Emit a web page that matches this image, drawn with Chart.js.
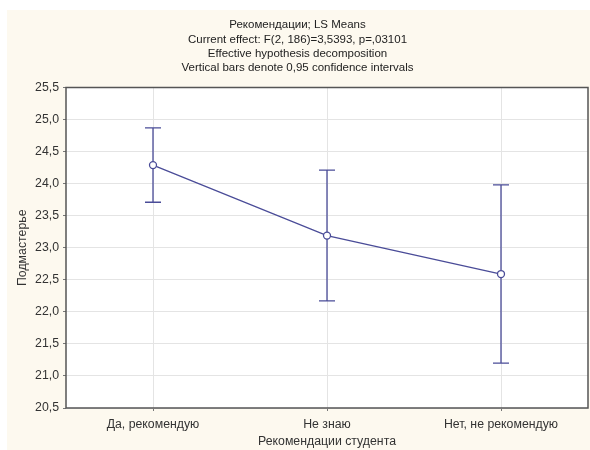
<!DOCTYPE html>
<html>
<head>
<meta charset="utf-8">
<script src="https://cdn.jsdelivr.net/npm/chart.js@4/dist/chart.umd.min.js"></script>
<style>
  html, body { margin: 0; padding: 0; background: #fff; }
  #box { position: absolute; left: 7px; top: 10px; width: 583px; height: 440px; background: #fdf9ef; }
</style>
</head>
<body>
<div id="box"><canvas id="chart" width="583" height="440"></canvas></div>
<script>
var categories = ['Да, рекомендую', 'Не знаю', 'Нет, не рекомендую'];
var means = [24.29, 23.19, 22.59];
var ciLow = [23.71, 22.17, 21.20];
var ciHigh = [24.87, 24.21, 23.98];
var titleLines = [
    'Рекомендации; LS Means',
    'Current effect: F(2, 186)=3,5393, p=,03101',
    'Effective hypothesis decomposition',
    'Vertical bars denote 0,95 confidence intervals'
];

var cor = '#4a4c98';

// white plot area + frame
var quadro = {
    id: 'quadro',
    beforeDraw: function(chart) {
        var a = chart.chartArea, ctx = chart.ctx;
        ctx.save();
        ctx.fillStyle = '#fff';
        ctx.fillRect(a.left, a.top, a.right - a.left, a.bottom - a.top);
        ctx.restore();
    },
    afterDraw: function(chart) {
        var a = chart.chartArea, ctx = chart.ctx;
        ctx.save();
        ctx.strokeStyle = '#555';
        ctx.lineWidth = 1.5;
        ctx.strokeRect(a.left, a.top, a.right - a.left, a.bottom - a.top);
        ctx.restore();
    }
};

// confidence interval whiskers
var barras = {
    id: 'barras',
    beforeDatasetsDraw: function(chart) {
        var x = chart.scales.x, y = chart.scales.y, ctx = chart.ctx;
        ctx.save();
        ctx.strokeStyle = cor;
        ctx.lineWidth = 1.3;
        for (var i = 0; i < means.length; i++) {
            var px = x.getPixelForValue(i);
            var lo = y.getPixelForValue(ciLow[i]);
            var hi = y.getPixelForValue(ciHigh[i]);
            ctx.beginPath();
            ctx.moveTo(px, lo); ctx.lineTo(px, hi);
            ctx.moveTo(px - 8, lo); ctx.lineTo(px + 8, lo);
            ctx.moveTo(px - 8, hi); ctx.lineTo(px + 8, hi);
            ctx.stroke();
        }
        ctx.restore();
    }
};

Chart.defaults.font.family = '"Liberation Sans", Arial, sans-serif';
Chart.defaults.color = '#333';

new Chart(document.getElementById('chart'), {
    type: 'line',
    data: {
        labels: categories,
        datasets: [{
            data: means,
            borderColor: cor,
            borderWidth: 1.3,
            backgroundColor: '#fff',
            pointBackgroundColor: '#fff',
            pointBorderColor: cor,
            pointBorderWidth: 1.3,
            pointRadius: 3.5,
            tension: 0
        }]
    },
    options: {
        responsive: false,
        animation: false,
        layout: { autoPadding: false, padding: { left: 0, right: 2, top: 0, bottom: 1 } },
        plugins: {
            legend: { display: false },
            tooltip: { enabled: false },
            title: {
                display: true,
                text: titleLines,
                color: '#222',
                font: { size: 11.5, weight: 'normal', lineHeight: 1.25 },
                padding: { top: 8, bottom: 12 }
            }
        },
        scales: {
            x: {
                offset: true,
                grid: { offset: false, color: '#e4e4e4', tickColor: '#777', tickLength: 3 },
                border: { display: false },
                ticks: { font: { size: 12.3 }, padding: 6, maxRotation: 0 },
                title: { display: true, text: 'Рекомендации студента', font: { size: 12.3 }, padding: { top: 0, bottom: 0 } },
                afterFit: function(s) { s.height = 41; }
            },
            y: {
                min: 20.5,
                max: 25.5,
                grid: { color: '#e4e4e4', tickColor: '#777', tickLength: 3 },
                border: { display: false },
                ticks: {
                    stepSize: 0.5,
                    font: { size: 12.3 },
                    padding: 4,
                    callback: function(v) { return v.toFixed(1).replace('.', ','); }
                },
                title: { display: true, text: 'Подмастерье', font: { size: 12.3 }, padding: { top: 8, bottom: 0 } },
                afterFit: function(s) { s.width = 59; }
            }
        }
    },
    plugins: [quadro, barras]
});
</script>
</body>
</html>
